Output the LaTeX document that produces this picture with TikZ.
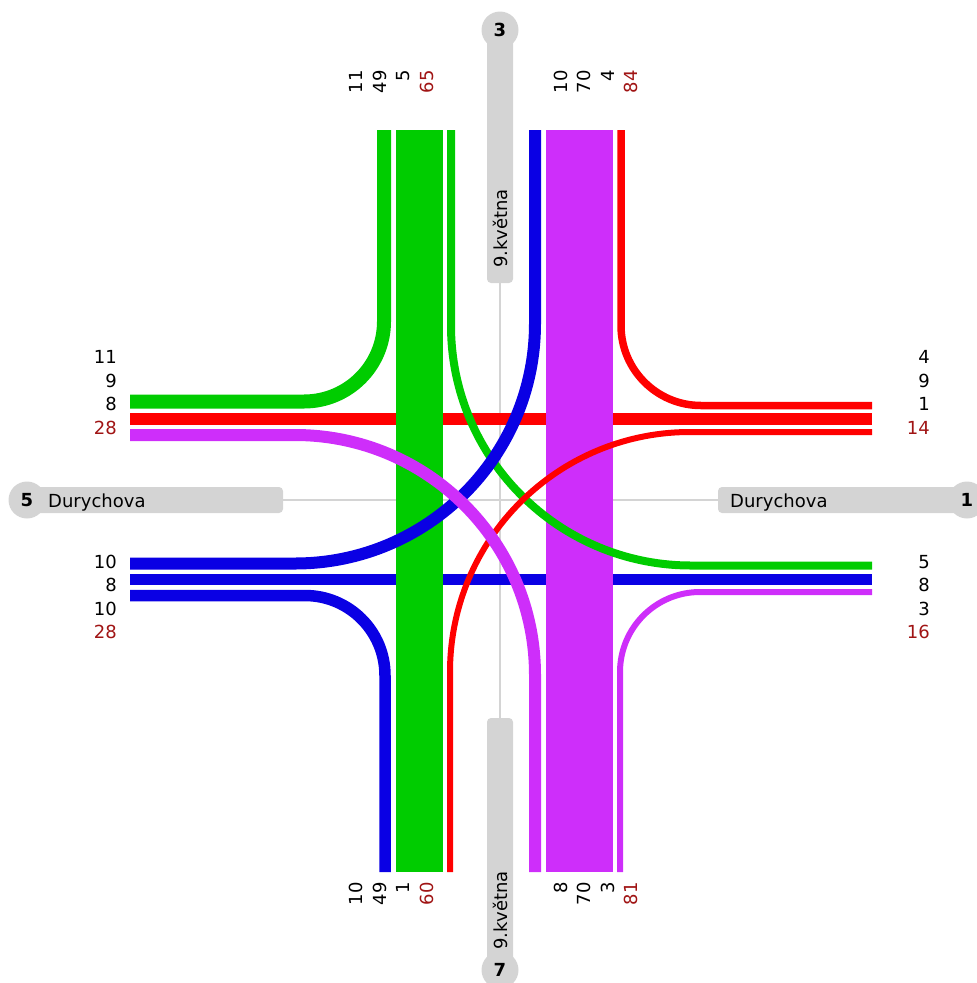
\documentclass[tikz,border=0pt]{standalone}
\usepackage{fontspec}
\setmainfont{DejaVu Sans}
\definecolor{flgreen}{RGB}{0,204,0}
\definecolor{flred}{RGB}{255,0,0}
\definecolor{flblue}{RGB}{10,0,228}
\definecolor{flpurple}{RGB}{206,46,250}
\definecolor{roadgray}{RGB}{212,212,212}
\definecolor{sumred}{RGB}{160,20,20}
\usetikzlibrary{positioning}

\begin{document}
\begin{tikzpicture}[x=1pt, y=-1pt,
  band/.style={line cap=butt, line join=round},
  turn/.style={band, rounded corners=80pt},
  sweep/.style={band, rounded corners=240pt},
  armno/.style={circle, fill=roadgray, minimum size=37pt, inner sep=0pt, font=\fontsize{18}{20}\selectfont\bfseries},
  street/.style={inner sep=0pt, font=\fontsize{18}{20}\selectfont},
  counts/.style={align=right, inner sep=0pt, font=\fontsize{18}{23.5}\selectfont}]
  \useasboundingbox (0,0) rectangle (977,983);
  % road axes
  \draw[roadgray, line width=2pt] (500,283) -- (500,718);
  \draw[roadgray, line width=2pt] (283,500) -- (718,500);
  % arm 3 (north)
  \fill[roadgray, rounded corners=4pt] (487,30) rectangle (513,283);
  \node[armno] (arm3) at (500,30) {3};
  \node[street, rotate=90, anchor=base west] (street3) at (507,268) {9.května};
  % arm 7 (south)
  \fill[roadgray, rounded corners=4pt] (487,718) rectangle (513,970);
  \node[armno] (arm7) at (500,970) {7};
  \node[street, rotate=90, anchor=base west] (street7) at (507,950) {9.května};
  % arm 5 (west)
  \fill[roadgray, rounded corners=4pt] (27,487) rectangle (283,513);
  \node[armno] (arm5) at (27,500) {5};
  \node[street, anchor=base west] (street5) at (48,507) {Durychova};
  % arm 1 (east)
  \fill[roadgray, rounded corners=4pt] (718,487) rectangle (967,513);
  \node[armno] (arm1) at (967,500) {1};
  \node[street, anchor=base west] (street1) at (730,507) {Durychova};
  % straight flows
  \draw[band, flred, line width=12pt] (130,419) -- (872,419);
  \draw[band, flblue, line width=11pt] (130,579.5) -- (872,579.5);
  \draw[band, flgreen, line width=47pt] (419.5,130) -- (419.5,872);
  \draw[band, flpurple, line width=67pt] (579.5,130) -- (579.5,872);
  % right turns
  \draw[turn, flgreen, line width=14pt] (384,130) |- (130,401.5);
  \draw[turn, flred, line width=7.5pt] (621,130) |- (872,405.5);
  \draw[turn, flblue, line width=11.5pt] (385,872) |- (130,595.5);
  \draw[turn, flpurple, line width=6pt] (620,872) |- (872,592);
  % left turns
  \draw[sweep, flgreen, line width=8pt] (451,130) |- (872,565.5);
  \draw[sweep, flred, line width=6pt] (450,872) |- (872,432);
  \draw[sweep, flblue, line width=12pt] (535,130) |- (130,563.5);
  \draw[sweep, flpurple, line width=12pt] (535,872) |- (130,435);
  % counts per arm
  \node[counts, rotate=90, anchor=east] (out3) at (391.5,70) {11\\49\\5\\\textcolor{sumred}{65}};
  \node[counts, rotate=90, anchor=east] (in3) at (596,70) {10\\70\\4\\\textcolor{sumred}{84}};
  \node[counts, rotate=90, anchor=east] (in7) at (391.5,882) {10\\49\\1\\\textcolor{sumred}{60}};
  \node[counts, rotate=90, anchor=east] (out7) at (596,882) {8\\70\\3\\\textcolor{sumred}{81}};
  \node[counts, anchor=east] (in5) at (117,392.5) {11\\9\\8\\\textcolor{sumred}{28}};
  \node[counts, anchor=east] (out5) at (117,597) {10\\8\\10\\\textcolor{sumred}{28}};
  \node[counts, anchor=east] (out1) at (930,392.5) {4\\9\\1\\\textcolor{sumred}{14}};
  \node[counts, anchor=east] (in1) at (930,597) {5\\8\\3\\\textcolor{sumred}{16}};
\end{tikzpicture}
\end{document}
